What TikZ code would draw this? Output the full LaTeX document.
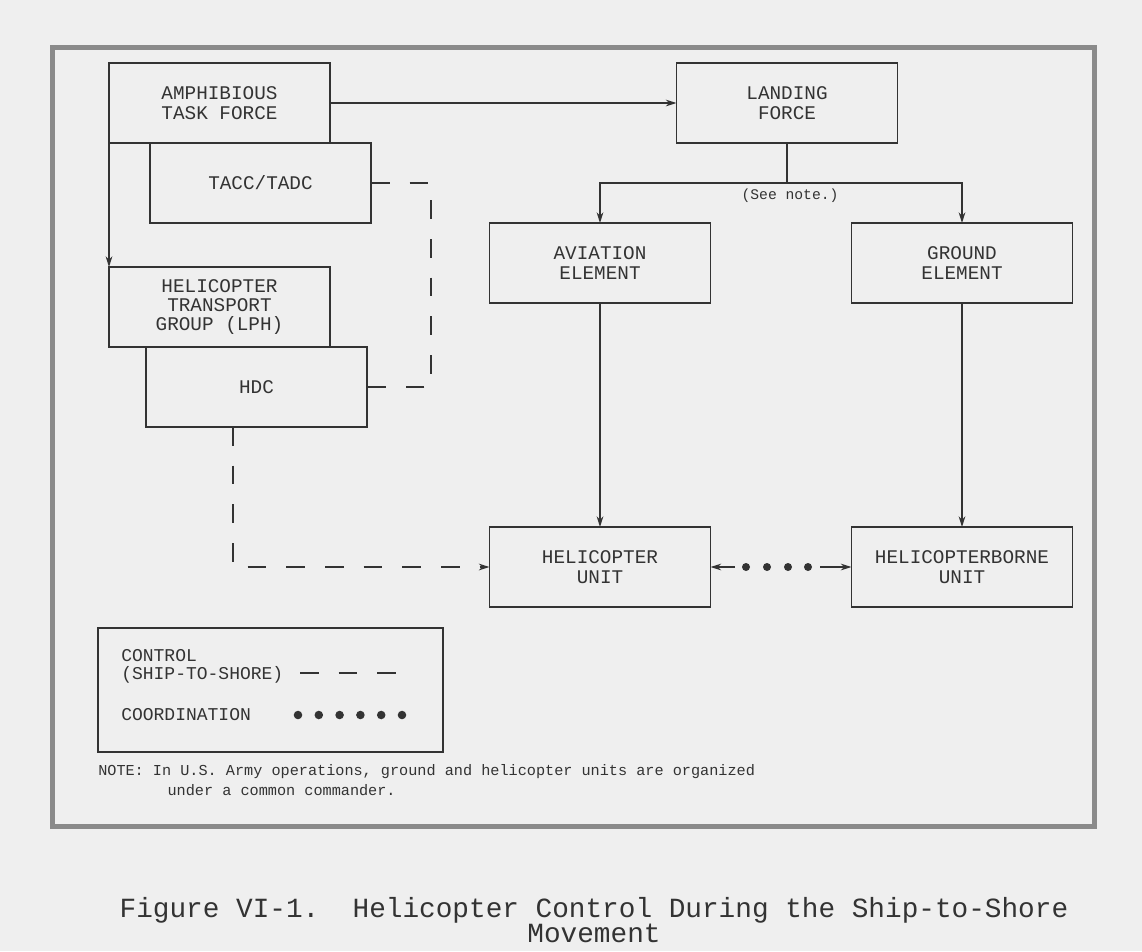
\documentclass[tikz,border=0pt]{standalone}
\usepackage{fontspec}
\setmainfont{Liberation Serif}
\setmonofont{Liberation Mono}
\usetikzlibrary{arrows.meta,calc}
\definecolor{PaperGray}{HTML}{EFEFEF}
\definecolor{FrameGray}{HTML}{8A8A8A}
\definecolor{InkGray}{HTML}{333333}

\begin{document}
\begin{tikzpicture}[x=0.75pt,y=-0.75pt,
    >={Stealth[length=8pt,width=5pt]},
    unit/.style={draw=InkGray,line width=1.1pt,minimum width=165.75pt,minimum height=60pt,
      inner sep=2pt,outer sep=0pt,align=center,text=InkGray,font=\fontsize{14.5}{14.6}\selectfont\ttfamily},
    link/.style={InkGray,line width=0.9pt},
    control/.style={InkGray,line width=1.3pt,dash pattern=on 14pt off 15pt},
    coord/.style={fill=InkGray},
    legendtext/.style={text=InkGray,align=left,inner sep=0pt,font=\fontsize{13.5}{13.5}\selectfont\ttfamily},
    small/.style={text=InkGray,inner sep=0pt,font=\fontsize{11}{15}\selectfont\ttfamily}]
    \useasboundingbox (0,0) rectangle (1142,951);
    \fill[PaperGray] (0,0) rectangle (1142,951);
    \draw[FrameGray,line width=3.75pt] (52,47) rectangle (1094,826);

    \node[unit] at (219.5,103) (atf)  {AMPHIBIOUS\\TASK FORCE};
    \node[unit] at (260.5,183) (tacc) {TACC/TADC};
    \node[unit] at (219.5,307) (htg)  {HELICOPTER\\TRANSPORT\\GROUP (LPH)};
    \node[unit] at (256.5,387) (hdc)  {HDC};
    \node[unit] at (787,103)   (lf)   {LANDING\\FORCE};
    \node[unit] at (600,263)   (ae)   {AVIATION\\ELEMENT};
    \node[unit] at (962,263)   (ge)   {GROUND\\ELEMENT};
    \node[unit] at (600,567)   (hu)   {HELICOPTER\\UNIT};
    \node[unit] at (962,567)   (hbu)  {HELICOPTERBORNE\\UNIT};

    \coordinate (fork) at (787,183);
    \draw [link,->] (atf) -- (lf);
    \draw [link,->] (atf.south west) -- (htg.north west);
    \draw [link] (lf) -- (fork);
    \draw [link,->] (fork) -| (ae);
    \draw [link,->] (fork) -| (ge);
    \node[small] at (790,196) (seenote) {(See note.)};
    \draw [link,->] (ae) -- (hu);
    \draw [link,->] (ge) -- (hbu);

    \coordinate (coordl) at (735,567);
    \coordinate (coordr) at (820,567);
    \draw [link,->] (coordl) -- (hu);
    \draw [link,->] (coordr) -- (hbu);
    \foreach \x in {746,767,788,808}
      \fill[coord] (\x,567) circle (3pt);

    \draw [control] (tacc.east) -- ++(60,0) |- (hdc.east);
    \draw [control,->] ($(hdc.south)+(-23.5,0)$) |- (hu);

    \node[draw=InkGray,line width=1.1pt,minimum width=258.75pt,minimum height=93pt] at (270.5,690) (legend) {};
    \node[legendtext,anchor=west] at (121,666) (ctrltext) {CONTROL\\(SHIP-TO-SHORE)};
    \node[legendtext,anchor=west] at (121,715) (coordtext) {COORDINATION};
    \coordinate (ctrla) at (300,673);
    \coordinate (ctrlb) at (400,673);
    \draw [control] (ctrla) -- (ctrlb);
    \foreach \i in {0,...,5}
      \fill[coord] (298+20.8*\i,715) circle (3.2pt);

    \node[small,anchor=west,align=left,font=\fontsize{11.4}{15}\selectfont\ttfamily] at (98,780) (note)
      {NOTE: In U.S. Army operations, ground and helicopter units are organized\\\hspace*{52pt}under a common commander.};
    \node[text=InkGray,align=center,font=\fontsize{20.8}{19}\selectfont\ttfamily] at (594,920) (caption)
      {Figure VI-1.~~Helicopter Control During the Ship-to-Shore\\Movement};
\end{tikzpicture}
\end{document}
